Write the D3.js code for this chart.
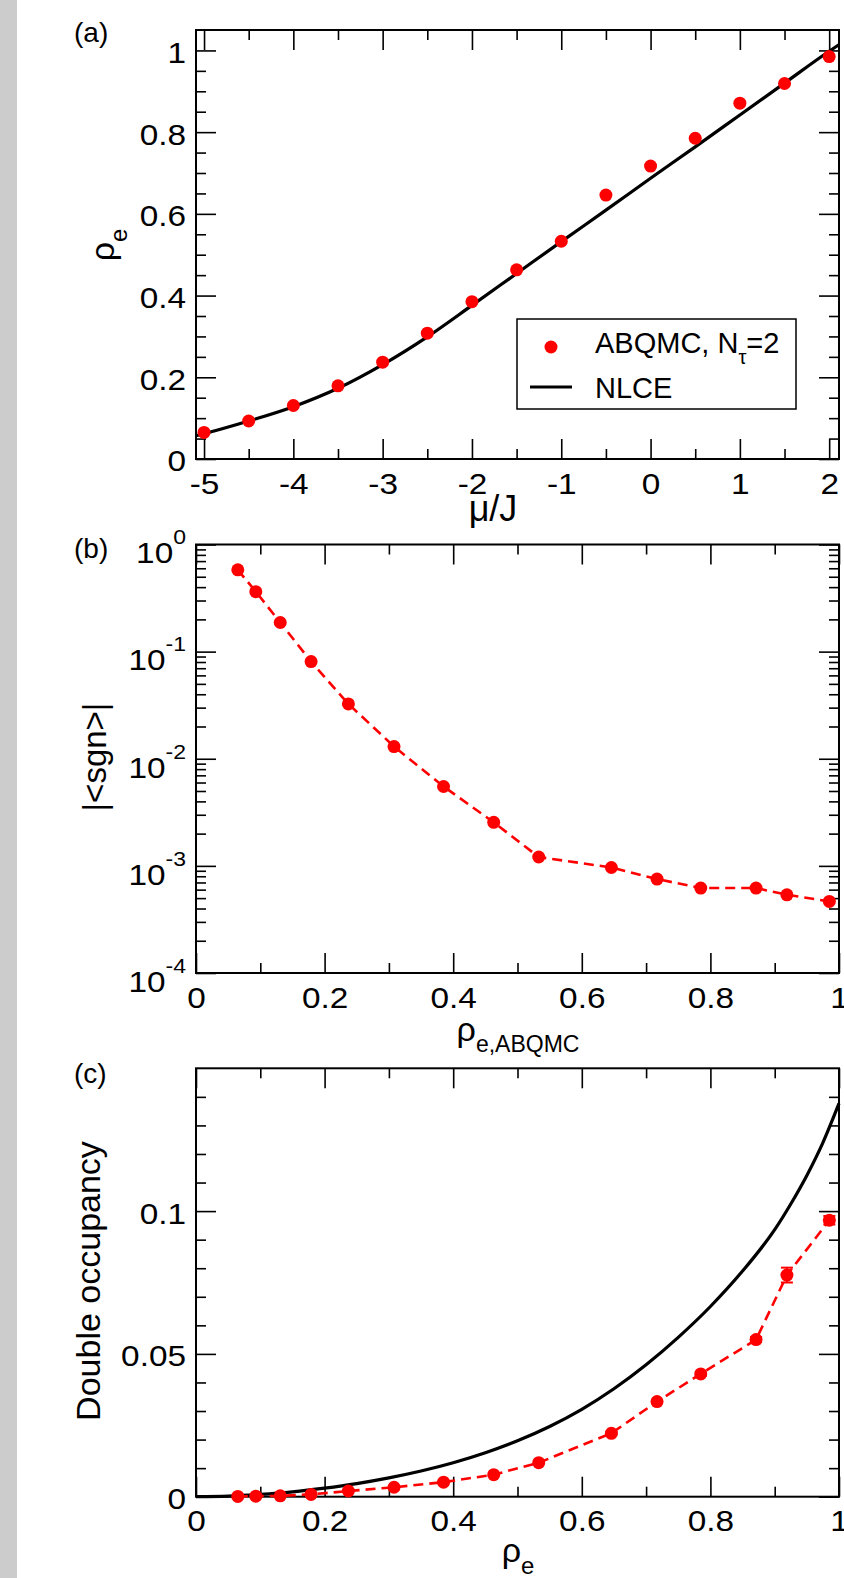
<!DOCTYPE html>
<html>
<head>
<meta charset="utf-8">
<script src="https://cdn.jsdelivr.net/npm/d3@7"></script>
<style>
body { margin: 0; background: #fff; }
svg { display: block; font-family: "Liberation Sans", Arial, Helvetica, sans-serif; }
</style>
</head>
<body>
<div id="chart"></div>
<script>
// ---- data ----
// chemical potential grid of the ABQMC runs
let muGrid = [-5, -4.5, -4, -3.5, -3, -2.5, -2, -1.5, -1, -0.5, 0, 0.5, 1, 1.5, 2];
// density from ABQMC (also the x values of panels b and c)
let rhoQmc = [0.065, 0.093, 0.131, 0.179, 0.237, 0.308, 0.385, 0.463, 0.533, 0.646, 0.717, 0.785, 0.871, 0.919, 0.985];
// NLCE density curve
let nlceMu = [-5.09, -5, -4.5, -4, -3.5, -3, -2.5, -2, -1.5, -1, -0.5, 0, 0.5, 1, 1.5, 2, 2.11];
let nlceRho = [0.057, 0.062, 0.093, 0.128, 0.173, 0.231, 0.299, 0.376, 0.454, 0.532, 0.609, 0.687, 0.764, 0.842, 0.92, 0.998, 1.014];
// average sign
let signVals = [0.58, 0.363, 0.187, 0.0807, 0.0325, 0.013, 0.00551, 0.00255, 0.00121, 0.000966, 0.000753, 0.000621, 0.000621, 0.000537, 0.000466];
// double occupancy, ABQMC with error bars
let doccQmc = [0.0001, 0.0002, 0.0003, 0.0008, 0.002, 0.0033, 0.0051, 0.0077, 0.0119, 0.0222, 0.0333, 0.043, 0.055, 0.0776, 0.0968];
let doccErr = [0, 0, 0, 0, 0, 0, 0, 0, 0, 0.0005, 0.0006, 0.0007, 0.0009, 0.0026, 0.0015];
// double occupancy, NLCE
let doccRho = [0, 0.05, 0.1, 0.15, 0.2, 0.25, 0.3, 0.35, 0.4, 0.45, 0.5, 0.55, 0.6, 0.65, 0.7, 0.75, 0.8, 0.85, 0.9, 0.925, 0.95, 0.975, 1.0];
let doccNlce = [0, 0.0002, 0.0008, 0.0017, 0.003, 0.0046, 0.0066, 0.009, 0.0119, 0.0154, 0.0196, 0.0246, 0.0306, 0.0378, 0.0462, 0.0558, 0.0666, 0.079, 0.0935, 0.1025, 0.1125, 0.124, 0.1377];

// tick labels
let muTicks = [-5, -4, -3, -2, -1, 0, 1, 2];
let rhoTicks = [0, 0.2, 0.4, 0.6, 0.8, 1];
let fracTicks = [0, 0.2, 0.4, 0.6, 0.8, 1];
let signTicks = [1e-4, 1e-3, 1e-2, 1e-1, 1];
let doccTicks = [0, 0.05, 0.1];

// ---- layout ----
let width = 844, height = 1578;
let left = 196, right = 839;
let stretch = 1.15;   // tick digits are drawn a bit wide in the original

let svg = d3.select("#chart").append("svg")
    .attr("width", width)
    .attr("height", height);

// grey strip on the left edge
svg.append("rect")
    .attr("x", 0).attr("y", 0)
    .attr("width", 17).attr("height", height)
    .attr("fill", "#cccccc");

// scales
let xA = d3.scaleLinear().domain([-5.09, 2.11]).range([left, right]);
let yA = d3.scaleLinear().domain([0, 1.05]).range([459, 30]);
let xB = d3.scaleLinear().domain([0, 1]).range([left, right]);
let yB = d3.scaleLog().domain([1e-4, 1]).range([973, 544.5]);
let xC = d3.scaleLinear().domain([0, 1]).range([left, right]);
let yC = d3.scaleLinear().domain([0, 0.15]).range([1496.7, 1068.3]);

function styleAxis(g) {
    g.select(".domain").remove();
    g.selectAll(".tick line").attr("stroke", "#000").attr("stroke-width", 1.6);
    g.attr("font-size", 29).attr("font-family", null);
    g.selectAll(".tick text").attr("fill", "#000");
}

// draws ticks on all four sides pointing inwards, plus the box
function drawFrame(xs, ys, xMajor, xMinor, yMajor, yMinor, xFmt, yFmt) {
    let x0 = xs.range()[0], x1 = xs.range()[1];
    let y0 = ys.range()[0], y1 = ys.range()[1];

    let gb = svg.append("g").attr("transform", `translate(0,${y0})`)
        .call(d3.axisBottom(xs).tickValues(xMajor).tickSizeInner(-20).tickSizeOuter(0).tickPadding(14).tickFormat(xFmt))
        .call(styleAxis);
    svg.append("g").attr("transform", `translate(0,${y0})`)
        .call(d3.axisBottom(xs).tickValues(xMinor).tickSizeInner(-10).tickSizeOuter(0).tickFormat(""))
        .call(styleAxis);
    svg.append("g").attr("transform", `translate(0,${y1})`)
        .call(d3.axisTop(xs).tickValues(xMajor).tickSizeInner(-20).tickSizeOuter(0).tickFormat(""))
        .call(styleAxis);
    svg.append("g").attr("transform", `translate(0,${y1})`)
        .call(d3.axisTop(xs).tickValues(xMinor).tickSizeInner(-10).tickSizeOuter(0).tickFormat(""))
        .call(styleAxis);

    let gl = svg.append("g").attr("transform", `translate(${x0},0)`)
        .call(d3.axisLeft(ys).tickValues(yMajor).tickSizeInner(-20).tickSizeOuter(0).tickPadding(10).tickFormat(yFmt))
        .call(styleAxis);
    svg.append("g").attr("transform", `translate(${x0},0)`)
        .call(d3.axisLeft(ys).tickValues(yMinor).tickSizeInner(-10).tickSizeOuter(0).tickFormat(""))
        .call(styleAxis);
    svg.append("g").attr("transform", `translate(${x1},0)`)
        .call(d3.axisRight(ys).tickValues(yMajor).tickSizeInner(-20).tickSizeOuter(0).tickFormat(""))
        .call(styleAxis);
    svg.append("g").attr("transform", `translate(${x1},0)`)
        .call(d3.axisRight(ys).tickValues(yMinor).tickSizeInner(-10).tickSizeOuter(0).tickFormat(""))
        .call(styleAxis);

    svg.append("rect")
        .attr("x", x0).attr("y", y1)
        .attr("width", x1 - x0).attr("height", y0 - y1)
        .attr("fill", "none").attr("stroke", "#000").attr("stroke-width", 2);

    gb.selectAll(".tick text").attr("transform", `scale(${stretch},1)`);
    gl.selectAll(".tick text")
        .attr("dy", "0.41em")
        .attr("x", -10 / stretch)
        .attr("transform", `scale(${stretch},1)`);
    return gl;
}

let plain = d => String(d);

// ---------- panel (a) ----------
drawFrame(xA, yA, muTicks, d3.range(-4.5, 2, 1), rhoTicks,
    d3.range(0, 21).map(i => i * 0.05).filter((d, i) => i % 4 !== 0), plain, plain);

let nlceLine = d3.line()
    .x((d, i) => xA(nlceMu[i]))
    .y(d => yA(d))
    .curve(d3.curveMonotoneX);

svg.append("path")
    .datum(nlceRho)
    .attr("d", nlceLine)
    .attr("fill", "none")
    .attr("stroke", "#000")
    .attr("stroke-width", 3.2);

svg.append("g").selectAll("circle")
    .data(rhoQmc).enter()
    .append("circle")
    .attr("cx", (d, i) => xA(muGrid[i]))
    .attr("cy", d => yA(d))
    .attr("r", 6.5)
    .attr("fill", "#ff0000");

// legend
let leg = svg.append("g");
leg.append("rect")
    .attr("x", 517).attr("y", 319).attr("width", 279).attr("height", 90)
    .attr("fill", "#fff").attr("stroke", "#000").attr("stroke-width", 1.5);
leg.append("circle").attr("cx", 551).attr("cy", 347).attr("r", 6.5).attr("fill", "#ff0000");
leg.append("line").attr("x1", 530).attr("x2", 572).attr("y1", 387).attr("y2", 387)
    .attr("stroke", "#000").attr("stroke-width", 3.2);
let legText1 = leg.append("text").attr("x", 595).attr("y", 353).attr("font-size", 29).text("ABQMC, N");
legText1.append("tspan").attr("dy", 11).attr("font-size", 20).text("τ");
legText1.append("tspan").attr("dy", -11).text("=2");
leg.append("text").attr("x", 595).attr("y", 398).attr("font-size", 29).text("NLCE");

// ---------- panel (b) ----------
let signMinor = yB.ticks().filter(d => signTicks.indexOf(d) < 0);
let glB = drawFrame(xB, yB, fracTicks, d3.range(0.1, 1, 0.2), signTicks, signMinor, plain, plain);
glB.selectAll(".tick text").each(function(d) {
    let t = d3.select(this).text("10").attr("dy", "0.63em");
    t.append("tspan").attr("dy", -19).attr("font-size", 20).text(String(Math.round(Math.log10(d))));
});

let dashLineB = d3.line()
    .x((d, i) => xB(rhoQmc[i]))
    .y(d => yB(d));

svg.append("path")
    .datum(signVals)
    .attr("d", dashLineB)
    .attr("fill", "none")
    .attr("stroke", "#ff0000")
    .attr("stroke-width", 2.6)
    .attr("stroke-dasharray", "10,6");

svg.append("g").selectAll("circle")
    .data(signVals).enter()
    .append("circle")
    .attr("cx", (d, i) => xB(rhoQmc[i]))
    .attr("cy", d => yB(d))
    .attr("r", 6.5)
    .attr("fill", "#ff0000");

// ---------- panel (c) ----------
drawFrame(xC, yC, fracTicks, d3.range(0.1, 1, 0.2), doccTicks,
    d3.range(1, 15).map(i => i * 0.01).filter(d => Math.abs(d - 0.05) > 1e-9 && Math.abs(d - 0.1) > 1e-9), plain, plain);

let nlceDocc = d3.line()
    .x((d, i) => xC(doccRho[i]))
    .y(d => yC(d))
    .curve(d3.curveMonotoneX);

svg.append("path")
    .datum(doccNlce)
    .attr("d", nlceDocc)
    .attr("fill", "none")
    .attr("stroke", "#000")
    .attr("stroke-width", 3.2);

let dashLineC = d3.line()
    .x((d, i) => xC(rhoQmc[i]))
    .y(d => yC(d));

svg.append("path")
    .datum(doccQmc)
    .attr("d", dashLineC)
    .attr("fill", "none")
    .attr("stroke", "#ff0000")
    .attr("stroke-width", 2.6)
    .attr("stroke-dasharray", "10,6");

// error bars
let errG = svg.append("g").attr("stroke", "#ff0000").attr("stroke-width", 2);
doccQmc.forEach((d, i) => {
    if (doccErr[i] <= 0) return;
    let cx = xC(rhoQmc[i]);
    let yt = yC(d + doccErr[i]), yb = yC(d - doccErr[i]);
    errG.append("line").attr("x1", cx).attr("x2", cx).attr("y1", yt).attr("y2", yb);
    errG.append("line").attr("x1", cx - 6).attr("x2", cx + 6).attr("y1", yt).attr("y2", yt);
    errG.append("line").attr("x1", cx - 6).attr("x2", cx + 6).attr("y1", yb).attr("y2", yb);
});

svg.append("g").selectAll("circle")
    .data(doccQmc).enter()
    .append("circle")
    .attr("cx", (d, i) => xC(rhoQmc[i]))
    .attr("cy", d => yC(d))
    .attr("r", 6.5)
    .attr("fill", "#ff0000");

// ---------- labels ----------
[["(a)", 42], ["(b)", 558], ["(c)", 1083]].forEach(p => {
    svg.append("text").attr("x", 74).attr("y", p[1]).attr("font-size", 28).text(p[0]);
});

svg.append("text").attr("x", 493).attr("y", 521).attr("text-anchor", "middle")
    .attr("font-size", 36).text("μ/J");

let tB = svg.append("text").attr("x", 518).attr("y", 1041).attr("text-anchor", "middle")
    .attr("font-size", 34).text("ρ");
tB.append("tspan").attr("dy", 11).attr("font-size", 23).text("e,ABQMC");

let tC = svg.append("text").attr("x", 518).attr("y", 1562).attr("text-anchor", "middle")
    .attr("font-size", 34).text("ρ");
tC.append("tspan").attr("dy", 12).attr("font-size", 24).text("e");

let yTa = svg.append("text").attr("transform", "translate(114,245) rotate(-90)")
    .attr("text-anchor", "middle").attr("font-size", 34).text("ρ");
yTa.append("tspan").attr("dy", 13).attr("font-size", 24).text("e");

svg.append("text").attr("transform", "translate(106,757) rotate(-90)")
    .attr("text-anchor", "middle").attr("font-size", 33).text("|<sgn>|");

svg.append("text").attr("transform", "translate(100,1281) rotate(-90)")
    .attr("text-anchor", "middle").attr("font-size", 34).text("Double occupancy");
</script>
</body>
</html>
